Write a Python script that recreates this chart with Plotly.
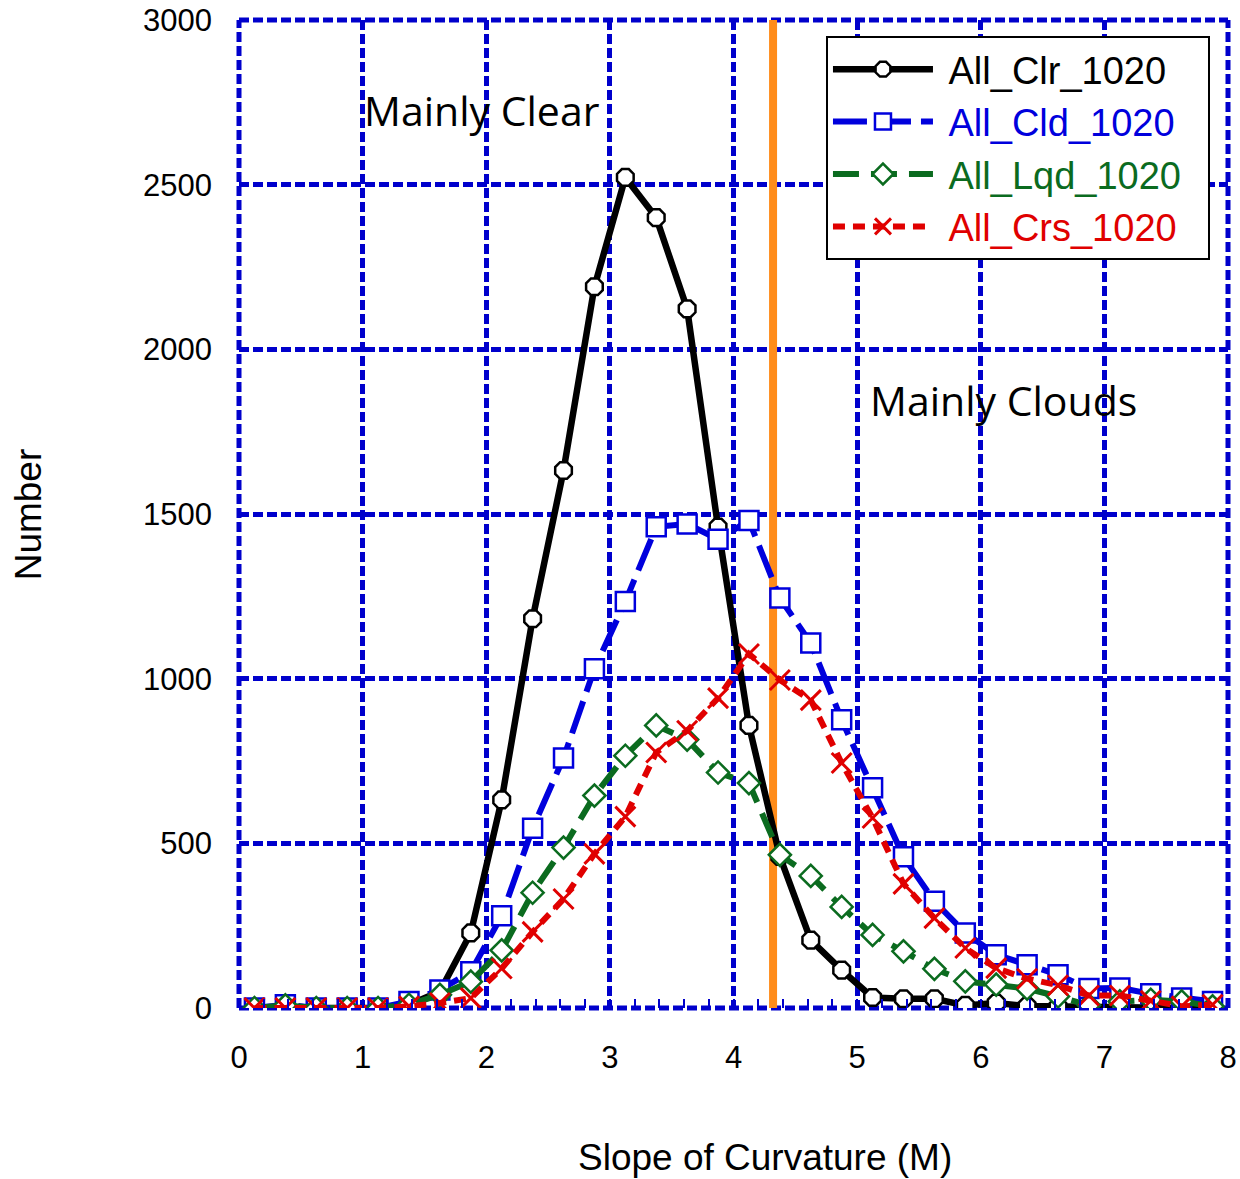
import plotly.graph_objects as go

# ---- data ----
x_bins = [0.125, 0.375, 0.625, 0.875, 1.125, 1.375, 1.625, 1.875,
          2.125, 2.375, 2.625, 2.875, 3.125, 3.375, 3.625, 3.875,
          4.125, 4.375, 4.625, 4.875, 5.125, 5.375, 5.625, 5.875,
          6.125, 6.375, 6.625, 6.875, 7.125, 7.375, 7.625, 7.875]

all_clr = [0, 0, 0, 0, 0, 10, 50, 228, 632, 1182, 1632, 2190, 2522, 2400, 2123, 1460,
           858, 460, 206, 115, 32, 28, 28, 8, 15, 6, 4, 4, 0, 0, 0, 0]
all_cld = [0, 10, 0, 0, 0, 20, 55, 110, 280, 546, 759, 1030, 1234, 1461, 1470, 1423,
           1480, 1245, 1108, 875, 669, 459, 324, 228, 162, 131, 101, 59, 61, 43, 30, 20]
all_lqd = [0, 8, 0, 0, 0, 10, 40, 80, 175, 350, 487, 645, 766, 858, 815, 715,
           683, 465, 401, 307, 222, 172, 119, 81, 71, 59, 35, 8, 20, 25, 20, 5]
all_crs = [0, 0, 0, 0, 0, 5, 15, 30, 120, 231, 331, 468, 581, 776, 842, 941,
           1075, 996, 935, 744, 577, 377, 273, 182, 121, 89, 69, 38, 38, 22, 5, 10]

series_names = ["All_Clr_1020", "All_Cld_1020", "All_Lqd_1020", "All_Crs_1020"]
threshold_x = 4.32

x_tickvals = [0, 1, 2, 3, 4, 5, 6, 7, 8]
y_tickvals = [0, 500, 1000, 1500, 2000, 2500, 3000]

# ---- styles ----
GRID = "#0000cc"
col_clr, col_cld, col_lqd, col_crs = "#000000", "#0000dd", "#0b6b1f", "#e00000"
tick_font = dict(family="Liberation Sans, Arial", size=31, color="black")

fig = go.Figure()

# orange separator line (drawn under the series)
fig.add_trace(go.Scatter(x=[threshold_x, threshold_x], y=[0, 3000], mode="lines",
                         line=dict(color="#ff8c1a", width=8), showlegend=False,
                         hoverinfo="skip"))

def legname(name, color):
    return f"<span style='color:{color}'>&nbsp;{name}&nbsp;&nbsp;</span>"

fig.add_trace(go.Scatter(
    x=x_bins, y=all_clr, mode="lines+markers", name=legname(series_names[0], col_clr),
    line=dict(color=col_clr, width=6.5),
    marker=dict(symbol="octagon", size=18, color="white", line=dict(color=col_clr, width=2.5))))
fig.add_trace(go.Scatter(
    x=x_bins, y=all_cld, mode="lines+markers", name=legname(series_names[1], col_cld),
    line=dict(color=col_cld, width=6, dash="34px,10px"),
    marker=dict(symbol="square", size=19, color="white", line=dict(color=col_cld, width=2.5))))
fig.add_trace(go.Scatter(
    x=x_bins, y=all_lqd, mode="lines+markers", name=legname(series_names[2], col_lqd),
    line=dict(color=col_lqd, width=6, dash="26px,12px"),
    marker=dict(symbol="diamond", size=17, color="white", line=dict(color=col_lqd, width=2.5))))
fig.add_trace(go.Scatter(
    x=x_bins, y=all_crs, mode="lines+markers", name=legname(series_names[3], col_crs),
    line=dict(color=col_crs, width=6, dash="12px,8px"),
    marker=dict(symbol="x-thin-open", size=20, color=col_crs, line=dict(color=col_crs, width=3))))

# dashed frame
for (x0, y0, x1, y1) in [(0, 0, 1, 0), (0, 1, 1, 1), (0, 0, 0, 1), (1, 0, 1, 1)]:
    fig.add_shape(type="line", xref="x domain", yref="y domain", x0=x0, y0=y0, x1=x1, y1=y1,
                  line=dict(color=GRID, width=5, dash="10px,4px"), layer="below")

fig.add_annotation(x=0.995, y=2727, xref="x", yref="y", text="Mainly Clear", showarrow=False,
                   xanchor="left", yanchor="middle",
                   font=dict(family="Open Sans", size=41, color="black"))
fig.add_annotation(x=5.09, y=1846, xref="x", yref="y", text="Mainly Clouds", showarrow=False,
                   xanchor="left", yanchor="middle",
                   font=dict(family="Open Sans", size=41, color="black"))

# axis titles
fig.add_annotation(x=-0.213, y=0.50, xref="paper", yref="paper", text="Number", showarrow=False,
                   xanchor="center", yanchor="middle", textangle=-90,
                   font=dict(family="Liberation Sans, Arial", size=37, color="black"))
fig.add_annotation(x=0.532, y=-0.151, xref="paper", yref="paper", text="Slope of Curvature (M)",
                   xanchor="center", yanchor="middle", showarrow=False,
                   font=dict(family="Liberation Sans, Arial", size=37, color="black"))

fig.update_xaxes(range=[0, 8], tickvals=x_tickvals, showgrid=True, gridcolor=GRID, gridwidth=4.5,
                 griddash="10px,4px", zeroline=False, showline=False, ticks="",
                 tickfont=tick_font, ticklabelstandoff=28, mirror="ticks", automargin=False,
                 ticklabeloverflow="allow",
                 minor=dict(dtick=0.2, ticks="inside", ticklen=9, tickwidth=2, tickcolor=GRID,
                            showgrid=False))
fig.update_yaxes(range=[0, 3000], tickvals=y_tickvals, showgrid=True, gridcolor=GRID, gridwidth=4.5,
                 griddash="10px,4px", zeroline=False, showline=False, ticks="",
                 tickfont=tick_font, ticklabelstandoff=26, automargin=False,
                 ticklabeloverflow="allow")

fig.update_layout(
    width=1240, height=1179,
    margin=dict(l=239, r=12, t=20, b=171, autoexpand=False),
    plot_bgcolor="white", paper_bgcolor="white",
    showlegend=True,
    legend=dict(x=0.5935, y=0.9838, xanchor="left", yanchor="top",
                bgcolor="white", bordercolor="black", borderwidth=2,
                font=dict(family="Liberation Sans, Arial", size=38, color="black"),
                itemwidth=100, tracegroupgap=0),
)

fig.write_html("out.html", config={"displayModeBar": False},
               post_script="document.body.style.margin='0';document.body.style.overflow='hidden';")
